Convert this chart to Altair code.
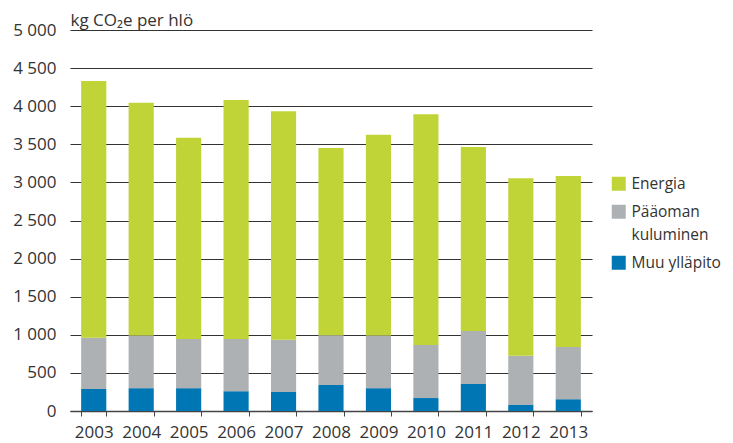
import altair as alt
import pandas as pd

years = ["2003", "2004", "2005", "2006", "2007", "2008", "2009", "2010", "2011", "2012", "2013"]
muu = [290, 300, 300, 260, 250, 340, 300, 170, 355, 80, 155]
paaoma = [670, 690, 645, 685, 685, 655, 690, 695, 695, 645, 685]
energia = [3370, 3055, 2640, 3135, 3000, 2455, 2635, 3030, 2415, 2330, 2245]

series = ["Energia", "Pääoman kuluminen", "Muu ylläpito"]
colors = ["#c0d437", "#aeb1b3", "#0077b4"]
y_ticks = [0, 500, 1000, 1500, 2000, 2500, 3000, 3500, 4000, 4500, 5000]

rows = []
for i, yr in enumerate(years):
    rows.append({"year": yr, "series": "Muu ylläpito", "value": muu[i], "ord": 0})
    rows.append({"year": yr, "series": "Pääoman kuluminen", "value": paaoma[i], "ord": 1})
    rows.append({"year": yr, "series": "Energia", "value": energia[i], "ord": 2})
df = pd.DataFrame(rows)

FONT = "Open Sans"
TXT = "#333333"

chart = alt.Chart(df).mark_bar().encode(
    x=alt.X(
        "year:N",
        title=None,
        scale=alt.Scale(paddingInner=0.47, paddingOuter=0.235),
        axis=alt.Axis(
            labelAngle=0, tickBand="extent", ticks=True, tickSize=5,
            tickColor="#444444", domainColor="#444444", domainWidth=1.5,
            labelFont=FONT, labelFontSize=17, labelColor=TXT, labelPadding=8,
            grid=False,
        ),
    ),
    y=alt.Y(
        "value:Q",
        stack="zero",
        scale=alt.Scale(domain=[0, 5000]),
        axis=alt.Axis(
            values=y_ticks,
            labelExpr="replace(format(datum.value, ','), ',', ' ')",
            title="kg CO₂e per hlö", titleAngle=0, titleX=0, titleY=-5,
            titleAlign="left", titleBaseline="alphabetic",
            titleFont=FONT, titleFontSize=17, titleFontWeight="normal", titleColor=TXT,
            labelFont=FONT, labelFontSize=17, labelColor=TXT, labelPadding=14,
            domain=False, ticks=False, grid=True, gridColor="#333333", gridWidth=1,
        ),
    ),
    color=alt.Color(
        "series:N",
        scale=alt.Scale(domain=series, range=colors),
        legend=alt.Legend(
            title=None, orient="none", legendX=541, legendY=146, padding=0,
            symbolType="square", symbolSize=196, symbolStrokeWidth=0, symbolOpacity=1,
            labelFont=FONT, labelFontSize=15.5, labelColor=TXT, labelOffset=5,
            rowPadding=11,
            labelExpr="datum.label == 'Pääoman kuluminen' ? ['Pääoman', 'kuluminen'] : datum.label",
        ),
    ),
    order=alt.Order("ord:Q"),
).properties(
    width=522, height=381,
    padding={"left": 62, "top": 22, "right": 133, "bottom": 32},
    autosize=alt.AutoSizeParams(type="none"),
).configure(
    style={"guide-label": {"lineHeight": 23}},
).configure_view(stroke=None)

chart.save("out.html", embed_options={"renderer": "svg", "actions": False})
